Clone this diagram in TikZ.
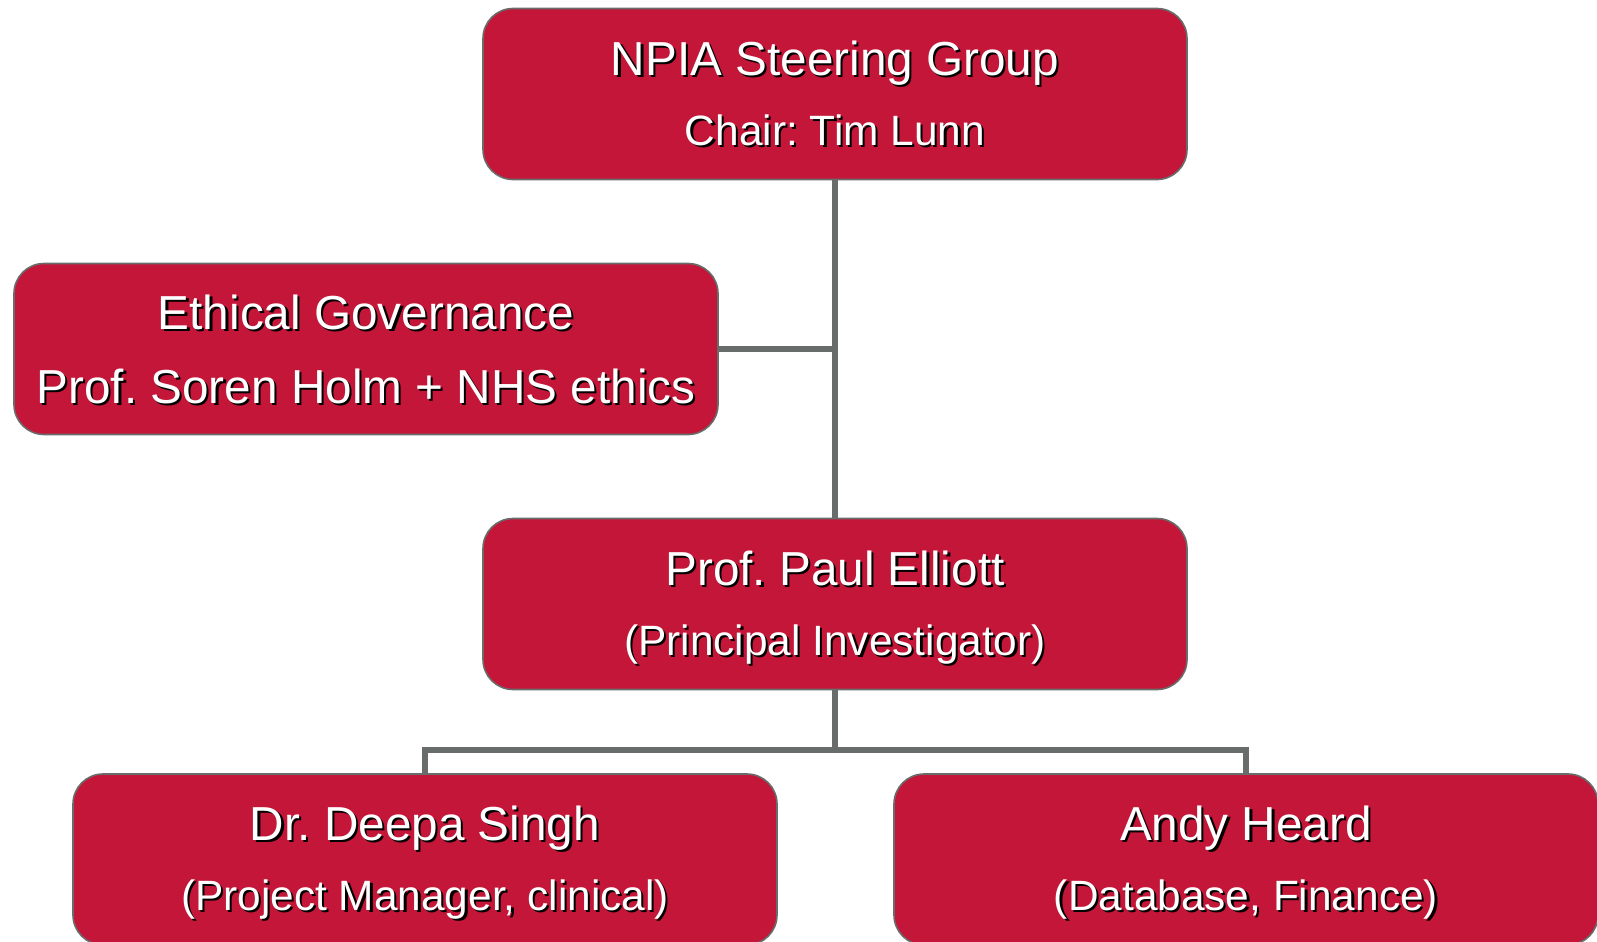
\documentclass[tikz,border=0pt]{standalone}
\usepackage{fontspec}
\setmainfont{Liberation Sans}
\usepackage{xcolor}
\usetikzlibrary{positioning}
\definecolor{boxred}{RGB}{196,22,56}
\definecolor{linegray}{RGB}{104,109,108}
\newcommand{\shadowed}[1]{\rlap{\kern1.1pt\raisebox{-1.1pt}{\color{black}#1}}#1}
% lines get fixed struts so every box centres its text the same way
\newcommand{\bigline}[1]{{\fontsize{23.85}{35}\selectfont\smash{\shadowed{#1}}\rule[-0.8pt]{0pt}{18.7pt}}}
\newcommand{\smallline}[1]{{\fontsize{21.2}{35}\selectfont\smash{\shadowed{#1}}\rule[-1.75pt]{0pt}{16.75pt}}}
\tikzset{
  orgbox/.style={draw=linegray, line width=0.8pt, fill=boxred, rounded corners=15pt,
                 text=white, align=center, minimum width=352pt, minimum height=85.5pt,
                 inner sep=0pt, font=\fontsize{23.85}{35}\selectfont\frenchspacing},
  link/.style={draw=linegray, line width=3pt},
}

\begin{document}
\begin{tikzpicture}[x=0.5pt, y=-0.5pt]
  \useasboundingbox (0,0) rectangle (1597,942);
  \clip (0,0) rectangle (1597,942);
  \node[orgbox] (steer) at (835,94)    {\bigline{NPIA Steering Group}\\\smallline{Chair: Tim Lunn}};
  \node[orgbox] (ethic) at (366,349)   {\bigline{Ethical Governance}\\[2pt]\bigline{Prof. Soren Holm + NHS ethics}};
  \node[orgbox] (pi)    at (835,604)   {\bigline{Prof. Paul Elliott}\\\smallline{(Principal Investigator)}};
  \node[orgbox] (pm)    at (425,859.5) {\bigline{Dr. Deepa Singh}\\\smallline{(Project Manager, clinical)}};
  \node[orgbox] (db)    at (1246,859.5){\bigline{Andy Heard}\\\smallline{(Database, Finance)}};
  \coordinate (fork) at (835,750);
  \draw[link] (steer) -- (pi);
  \draw[link] (ethic.east) -- (ethic.east -| steer.south);
  \draw[link] (pi) -- (fork);
  \draw[link] (fork) -| (pm.north);
  \draw[link] (fork) -| (db.north);
\end{tikzpicture}
\end{document}
